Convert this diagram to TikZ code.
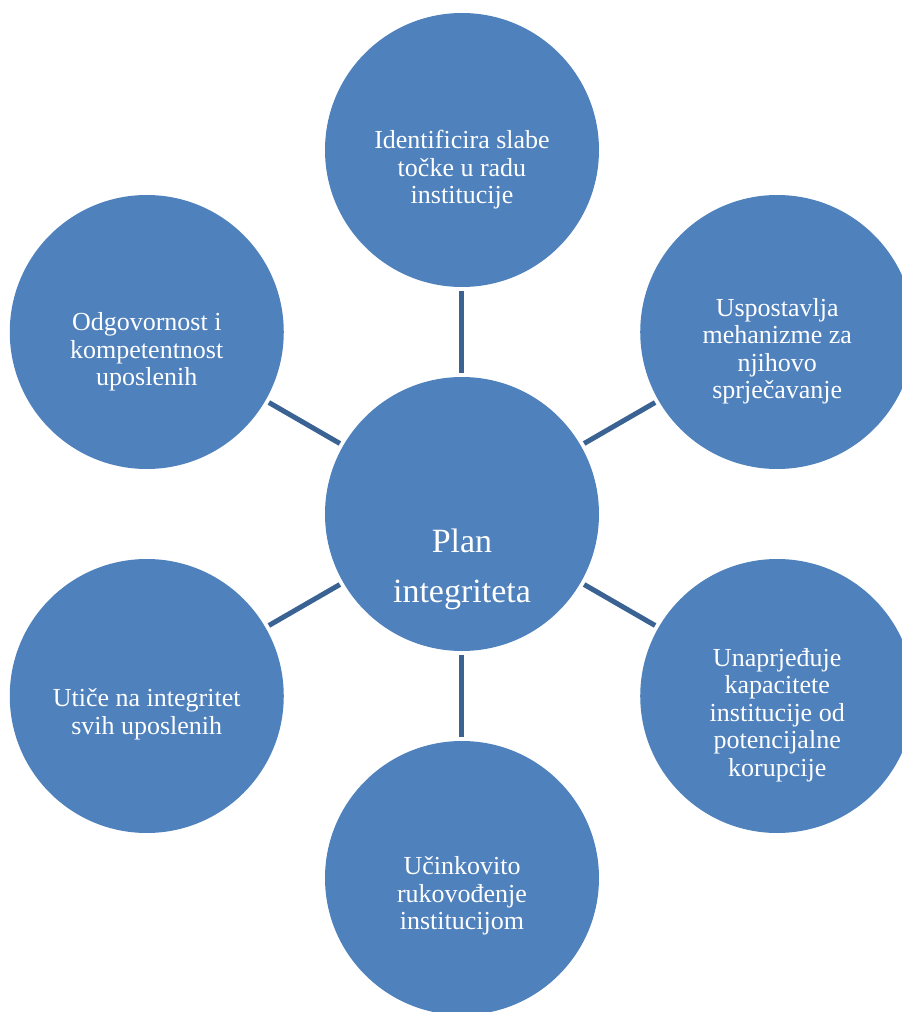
\documentclass[tikz,border=0pt]{standalone}
\usepackage{fontspec}
\setmainfont{Liberation Serif}
\usetikzlibrary{calc,positioning}

\begin{document}
\begin{tikzpicture}[
            x=1pt,y=1pt,
            spoke/.style={draw=spokeblue,line width=5pt,shorten <=4pt,shorten >=4pt},
            caption/.style={text=white,align=center,inner sep=0pt,font=\fontsize{26}{27.5}\selectfont}
        ]
            \definecolor{bubbleblue}{RGB}{79,129,189}
            \definecolor{spokeblue}{RGB}{58,99,148}
            \useasboundingbox (-462,-498) rectangle (440,514);
            \clip (-462,-498) rectangle (440,514);

            \begin{scope}[
                every node/.style={circle,fill=bubbleblue,minimum size=274pt,inner sep=0pt,outer sep=0pt}
            ]
                \node (plan)    at (0,0)        {};
                \node (weak)    at (90:364pt)   {};
                \node (prevent) at (30:364pt)   {};
                \node (improve) at (-30:364pt)  {};
                \node (lead)    at (-90:364pt)  {};
                \node (staff)   at (-150:364pt) {};
                \node (duty)    at (150:364pt)  {};
            \end{scope}

            \draw [spoke] (plan) -- (weak);
            \draw [spoke] (plan) -- (prevent);
            \draw [spoke] (plan) -- (improve);
            \draw [spoke] (plan) -- (lead);
            \draw [spoke] (plan) -- (staff);
            \draw [spoke] (plan) -- (duty);

            \node (plantext) [caption,font=\fontsize{34}{50}\selectfont] at ($(plan)+(0,-55)$) {Plan\\integriteta};
            \node (weaktext)    [caption] at ($(weak)+(0,-20)$)    {Identificira slabe\\točke u radu\\institucije};
            \node (preventtext) [caption] at ($(prevent)+(0,-19)$) {Uspostavlja\\mehanizme za\\njihovo\\sprječavanje};
            \node (improvetext) [caption] at ($(improve)+(0,-19)$) {Unaprjeđuje\\kapacitete\\institucije od\\potencijalne\\korupcije};
            \node (leadtext)    [caption] at ($(lead)+(0,-18)$)    {Učinkovito\\rukovođenje\\institucijom};
            \node (stafftext)   [caption] at ($(staff)+(0,-18)$)   {Utiče na integritet\\svih uposlenih};
            \node (dutytext)    [caption] at ($(duty)+(0,-20)$)    {Odgovornost i\\kompetentnost\\uposlenih};
        \end{tikzpicture}
\end{document}
